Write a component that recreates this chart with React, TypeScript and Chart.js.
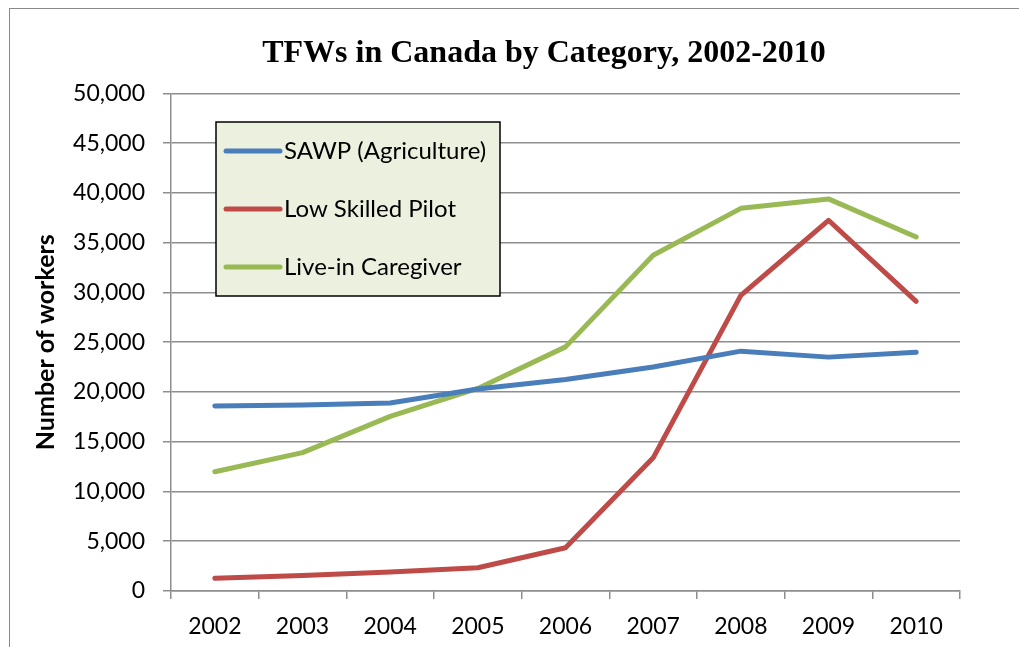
import React, { useEffect, useRef } from "react";
import { Chart, registerables } from "chart.js";

Chart.register(...registerables);

const years = ["2002", "2003", "2004", "2005", "2006", "2007", "2008", "2009", "2010"];
const sawp = [18600, 18700, 18900, 20300, 21250, 22500, 24100, 23500, 24000];
const lowSkilled = [1270, 1550, 1900, 2340, 4350, 13380, 29700, 37250, 29100];
const caregiver = [11980, 13900, 17550, 20350, 24530, 33730, 38450, 39400, 35570];
const seriesNames = ["SAWP (Agriculture)", "Low Skilled Pilot", "Live-in Caregiver"];
const seriesColors = ["#4A7EBB", "#BE4B48", "#98B954"];

const CANVAS_W = 1068;
const CANVAS_H = 640;
const GRID = "#8e8e8e";
const TICK_FONT = { family: "Lato", size: 23 };

const boxLegend = {
  id: "boxLegend",
  afterDatasetsDraw(chart: any) {
    const ctx = chart.ctx;
    const x0 = 206, y0 = 113, w = 284, h = 174;
    ctx.save();
    ctx.fillStyle = "#EBF1DE";
    ctx.fillRect(x0, y0, w, h);
    ctx.strokeStyle = "#000";
    ctx.lineWidth = 1.5;
    ctx.strokeRect(x0, y0, w, h);
    ctx.font = "24px Lato";
    ctx.textBaseline = "middle";
    ctx.textAlign = "left";
    chart.data.datasets.forEach((ds: any, i: number) => {
      const y = y0 + 29 + i * 58;
      ctx.strokeStyle = ds.borderColor;
      ctx.lineWidth = 5;
      ctx.lineCap = "round";
      ctx.beginPath();
      ctx.moveTo(x0 + 10, y);
      ctx.lineTo(x0 + 64, y);
      ctx.stroke();
      ctx.fillStyle = "#000";
      ctx.fillText(ds.label, x0 + 68, y);
    });
    ctx.restore();
  },
};

export default function App() {
  const ref = useRef<HTMLCanvasElement>(null);
  useEffect(() => {
    if (!ref.current) return;
    const mk = (label: string, data: number[], color: string) => ({
      label,
      data,
      borderColor: color,
      backgroundColor: color,
      borderWidth: 5,
      pointRadius: 0,
      tension: 0,
      borderCapStyle: "round" as const,
      borderJoinStyle: "round" as const,
      yAxisID: "y",
    });
    const chart = new Chart(ref.current, {
      type: "line",
      data: {
        labels: years,
        datasets: [
          mk(seriesNames[0], sawp, seriesColors[0]),
          mk(seriesNames[1], lowSkilled, seriesColors[1]),
          mk(seriesNames[2], caregiver, seriesColors[2]),
        ],
      },
      options: {
        animation: false,
        responsive: false,
        layout: { padding: 0 },
        plugins: {
          legend: { display: false },
          tooltip: { enabled: false },
          title: {
            display: true,
            text: "TFWs in Canada by Category, 2002-2010",
            color: "#000",
            font: { family: "Liberation Serif", size: 32, weight: "bold", lineHeight: 1.2 },
            padding: { top: 26, bottom: 20 },
          },
        },
        scales: {
          x: {
            offset: true,
            grid: {
              display: true,
              drawOnChartArea: false,
              drawTicks: true,
              tickLength: 8,
              offset: true,
              color: GRID,
              lineWidth: 1.5,
            },
            border: { display: true, color: GRID, width: 1.5 },
            ticks: { color: "#000", font: TICK_FONT, padding: 14, maxRotation: 0 },
            afterFit: (s: any) => {
              s.height = CANVAS_H - 582;
            },
          },
          y: {
            position: "left",
            min: 0,
            max: 50000,
            grid: { color: GRID, lineWidth: 1.5, tickLength: 8, drawTicks: true },
            border: { display: true, color: GRID, width: 1.5 },
            ticks: { stepSize: 5000, color: "#000", font: TICK_FONT, padding: 18 },
            title: {
              display: true,
              text: "Number of workers",
              color: "#000",
              font: { family: "Lato", size: 25, weight: "bold", lineHeight: 1.2 },
              padding: { top: 21, bottom: 0 },
            },
            afterFit: (s: any) => {
              s.width = 161;
            },
          },
          yR: {
            position: "right",
            display: true,
            grid: { display: false },
            border: { display: false },
            ticks: { display: false },
            afterFit: (s: any) => {
              s.width = 118;
            },
          },
        },
      },
      plugins: [boxLegend],
    });
    return () => chart.destroy();
  }, []);

  return (
    <div style={{ position: "fixed", inset: 0, overflow: "hidden", background: "#fff" }}>
      <div
        style={{
          position: "absolute",
          left: 9,
          top: 8,
          width: CANVAS_W,
          height: CANVAS_H + 20,
          border: "1px solid #8a8a8a",
          background: "#fff",
        }}
      >
        <canvas
          ref={ref}
          width={CANVAS_W}
          height={CANVAS_H}
          style={{ display: "block", width: CANVAS_W, height: CANVAS_H }}
        />
      </div>
    </div>
  );
}
